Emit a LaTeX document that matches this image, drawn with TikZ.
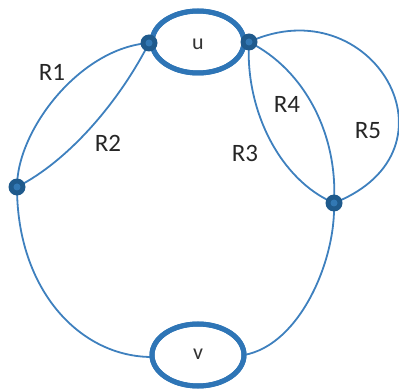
\documentclass[tikz,border=0pt]{standalone}
\usepackage{fontspec}
\setmainfont{Carlito}
\definecolor{edgeblue}{RGB}{62,128,190}
\definecolor{ellblue}{RGB}{46,117,182}
\definecolor{dotdark}{RGB}{31,90,140}
\definecolor{dotlight}{RGB}{50,120,180}
\tikzset{
  edge/.style={draw=edgeblue, line width=1.8pt},
  ellnode/.style={draw=ellblue, line width=5pt, fill=white, ellipse, minimum width=92pt, minimum height=62pt, inner sep=0pt},
  dotnode/.style={circle, fill=dotdark, minimum size=17pt, inner sep=0pt, path picture={\fill[dotlight] (path picture bounding box.center) circle (3.5pt);}},
  lbl/.style={font=\fontsize{25}{25}\selectfont, text=black!85},
  ellbl/.style={font=\fontsize{22}{22}\selectfont, text=black!80}
}
\usetikzlibrary{shapes.geometric}
\begin{document}
\begin{tikzpicture}[x=1pt,y=-1pt]
\useasboundingbox (0,0) rectangle (399,390);
\node[ellnode] (u) at (198,42) {};
\node[ellnode] (v) at (198,355) {};
\node[ellbl] at (198,44) {u};
\node[ellbl] at (198,354) {v};
\coordinate (ul) at (149,43);
\coordinate (ur) at (249,42);
\coordinate (b) at (17,187);
\coordinate (d) at (334,203);
\coordinate (vl) at (152,357);
\coordinate (vr) at (244,355);
% edges
\draw[edge] (b) .. controls (17,130) and (80,48) .. (ul);
\draw[edge] (b) .. controls (70,160) and (120,100) .. (ul);
\draw[edge] (ur) .. controls (245,110) and (280,180) .. (d);
\draw[edge] (ur) .. controls (305,70) and (338,135) .. (d);
\draw[edge] (ur) .. controls (372,-14) and (468,150) .. (d);
\draw[edge] (b) .. controls (17,290) and (80,357) .. (vl);
\draw[edge] (vr) .. controls (300,345) and (336,260) .. (d);
% redraw ellipses on top of edge ends
\draw[draw=ellblue, line width=5pt] (u.center) ellipse (46pt and 31pt);
\draw[draw=ellblue, line width=5pt] (v.center) ellipse (46pt and 31pt);
% dots
\node[dotnode] (nA) at (ul) {};
\node[dotnode] (nC) at (ur) {};
\node[dotnode] (nB) at (b) {};
\node[dotnode] (nD) at (d) {};
% labels
\node[lbl] (R1) at (52,72) {R1};
\node[lbl] (R2) at (108,143) {R2};
\node[lbl] (R3) at (245,153) {R3};
\node[lbl] (R4) at (287,104) {R4};
\node[lbl] (R5) at (368,131) {R5};
\end{tikzpicture}
\end{document}
